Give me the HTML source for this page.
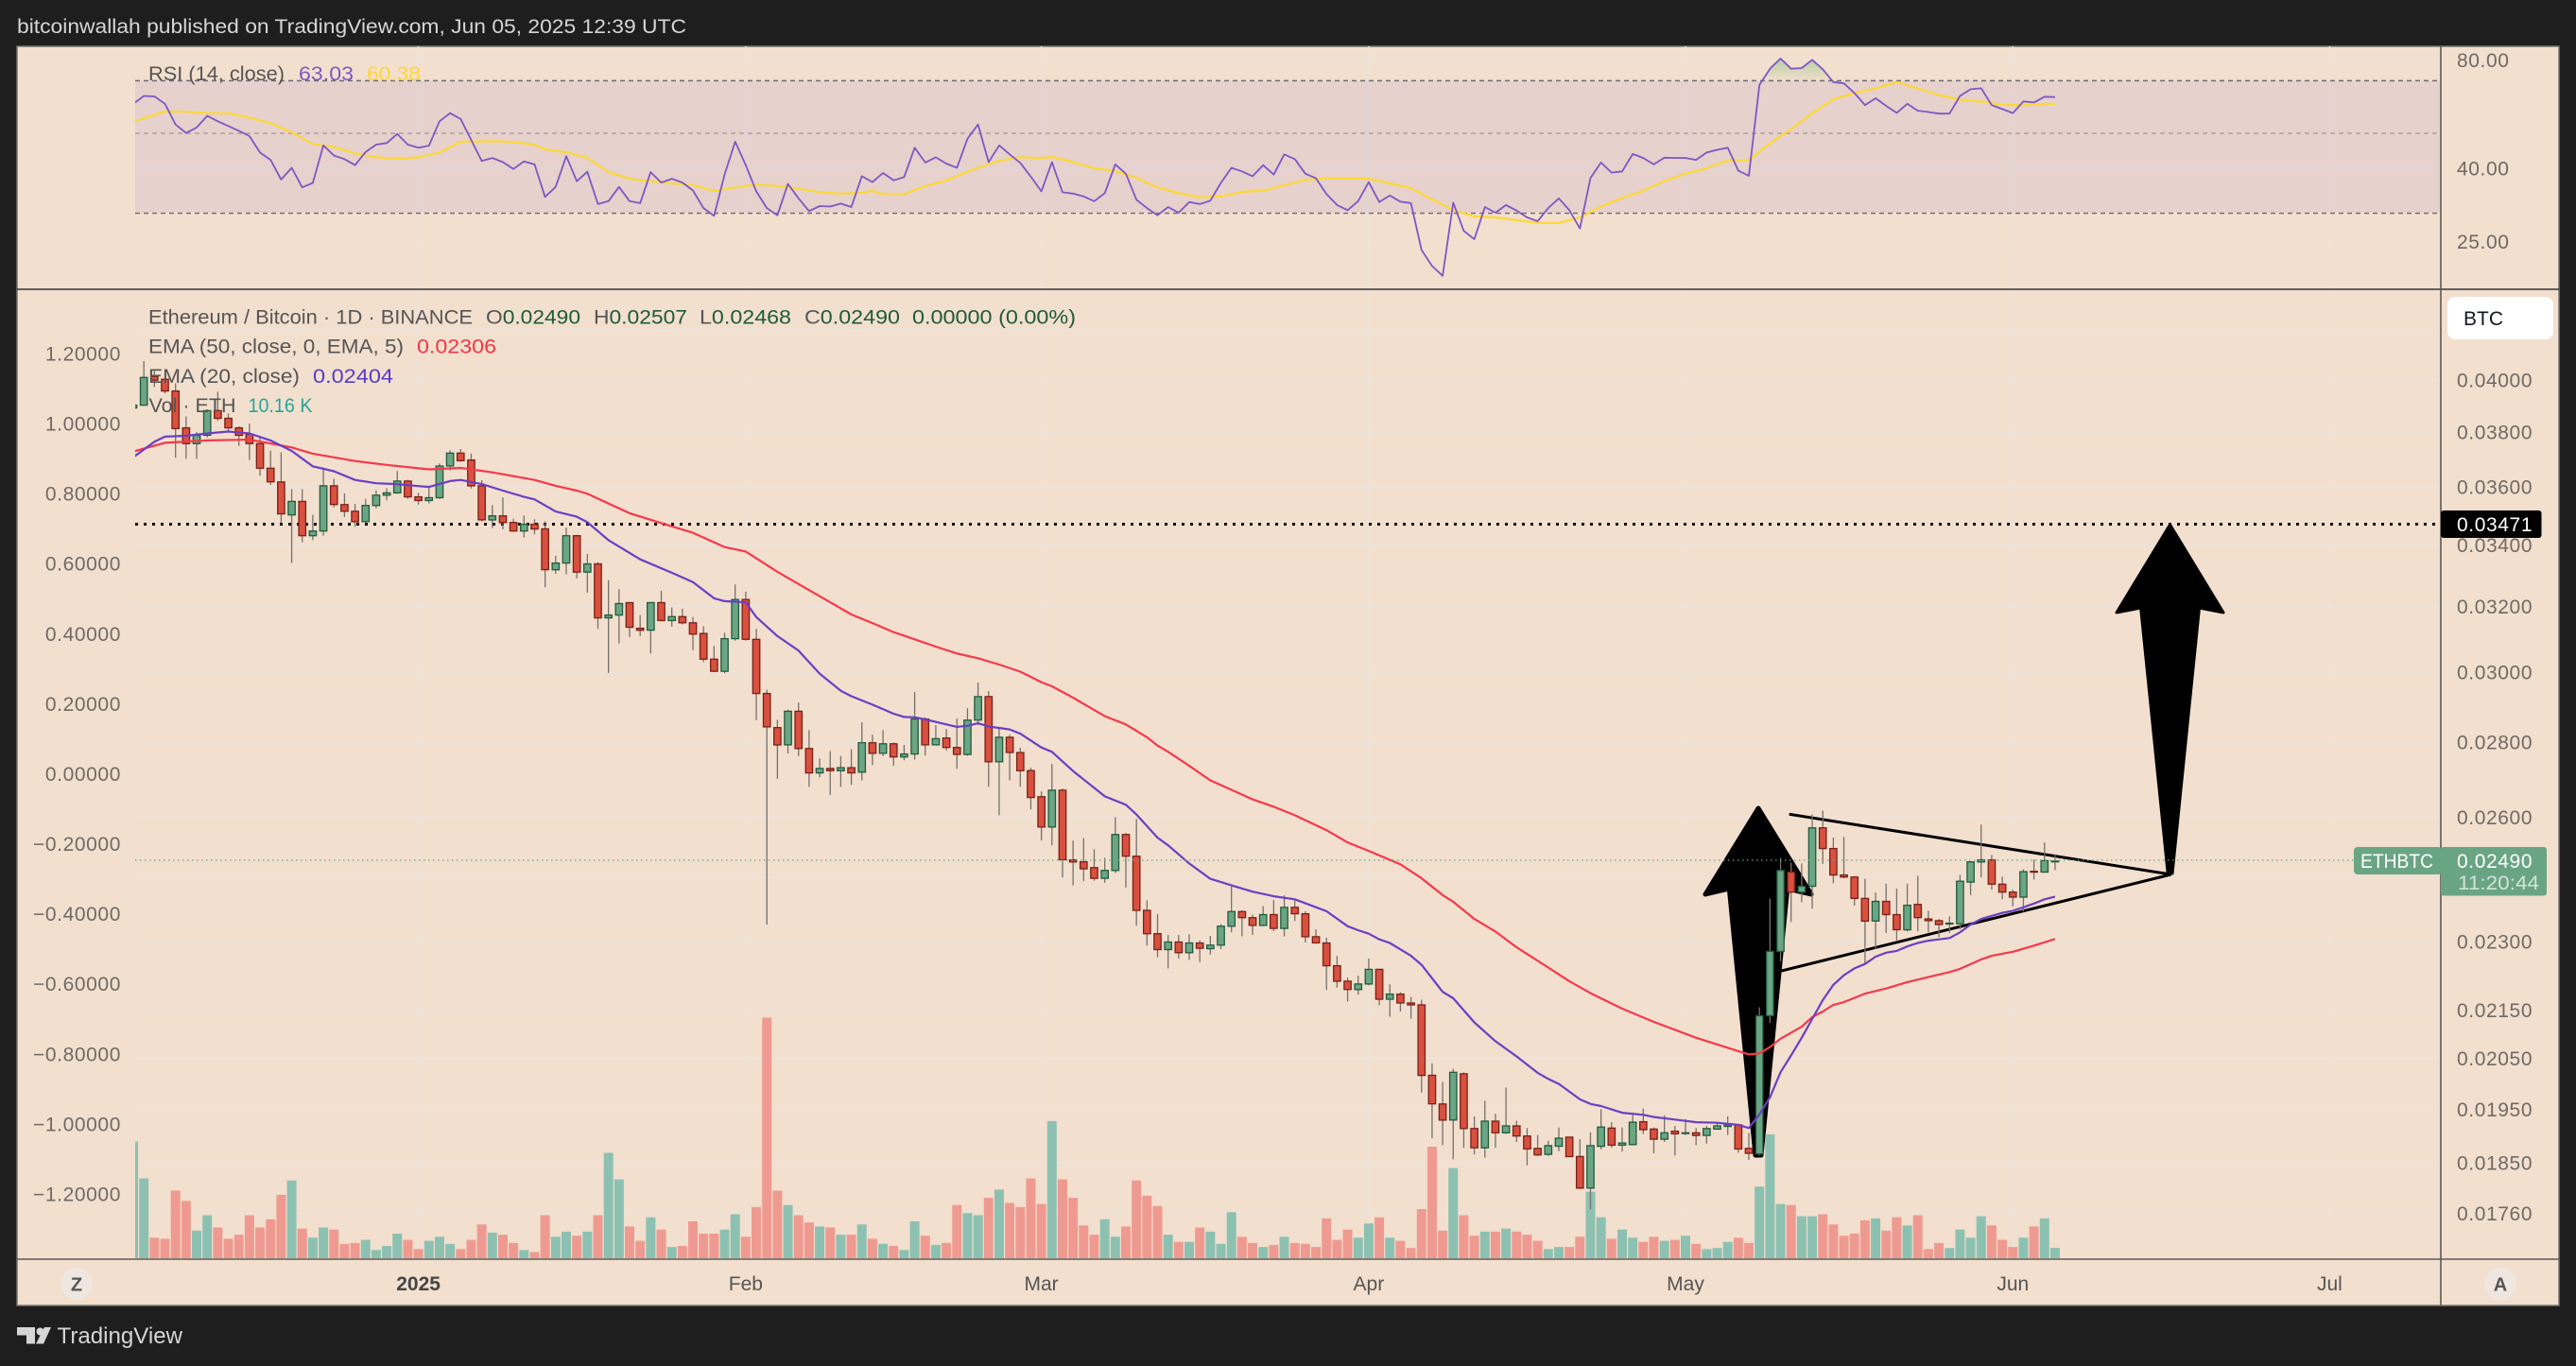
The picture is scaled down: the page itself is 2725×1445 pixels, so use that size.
<!DOCTYPE html>
<html lang="en">
<head>
<meta charset="utf-8">
<title>ETHBTC chart</title>
<style>
html,body{margin:0;padding:0;background:#1e1e1e;width:2725px;height:1445px;overflow:hidden}
svg{display:block}
text{font-family:"Liberation Sans",sans-serif}
</style>
</head>
<body>
<svg id="chart" xmlns="http://www.w3.org/2000/svg" width="2725" height="1445" viewBox="0 0 2725 1445">
  <defs>
    <clipPath id="plot-clip"><rect x="143" y="306" width="2439" height="1026"/></clipPath>
    <clipPath id="rsi-clip"><rect x="143" y="49" width="2439" height="257"/></clipPath>
    <clipPath id="rsi-ob-clip"><rect x="143" y="49" width="2439" height="36.5"/></clipPath>
    <linearGradient id="rsi-ob-grad" gradientUnits="userSpaceOnUse" x1="0" y1="60" x2="0" y2="86">
      <stop offset="0" stop-color="#4caf50" stop-opacity="0.38"/>
      <stop offset="1" stop-color="#4caf50" stop-opacity="0"/>
    </linearGradient>
  </defs>
  <rect x="0" y="0" width="2725" height="1445" fill="#1e1e1e"/>
  <text x="18" y="35" font-size="21" fill="#d6d6d6" textLength="708" lengthAdjust="spacingAndGlyphs">bitcoinwallah published on TradingView.com, Jun 05, 2025 12:39 UTC</text>
  <rect x="18" y="49" width="2689" height="1332" fill="#f2dfce" stroke="#77736e" stroke-width="1.5"/>

  <g id="grid-layer"></g>
  <rect x="143" y="85.5" width="2439" height="139.5" fill="#7e57c2" fill-opacity="0.1"/>
  <g id="rsi-levels"></g>
  <g id="rsi-layer" clip-path="url(#rsi-clip)"></g>

  <g>
    <line x1="143" y1="554.5" x2="2578" y2="554.5" stroke="#000" stroke-width="3" stroke-dasharray="3 6"/>
    <polygon points="1860,855 1916,946 1890.7,940 1863,1222 1857,1222 1829.3,940 1804,946" fill="#000" stroke="#000" stroke-width="5" stroke-linejoin="round"/>
    <polygon points="2295.5,555 2352,648 2326.5,643 2298,924 2293,922 2264.6,643 2239,648" fill="#000" stroke="#000" stroke-width="3" stroke-linejoin="round"/>
    <line x1="1892.7" y1="861.3" x2="2296.7" y2="925" stroke="#000" stroke-width="3"/>
    <line x1="1883.3" y1="1027.3" x2="2296.7" y2="925" stroke="#000" stroke-width="3"/>
  </g>

  <g id="volume-layer" clip-path="url(#plot-clip)"></g>
  <g id="candle-layer" clip-path="url(#plot-clip)"></g>
  <g id="ema-layer" clip-path="url(#plot-clip)"></g>
  <line x1="143" y1="910" x2="2490" y2="910" stroke="#5fa880" stroke-width="1.3" stroke-dasharray="1.5 3.5"/>

  <line x1="18" y1="306" x2="2707" y2="306" stroke="#34343a" stroke-width="1.6"/>
  <line x1="18" y1="1332" x2="2707" y2="1332" stroke="#5c5a58" stroke-width="1.6"/>
  <line x1="2582" y1="49" x2="2582" y2="1381" stroke="#5c5a58" stroke-width="1.6"/>

  <g id="tick-layer"></g>

  <g>
    <text x="157" y="85" font-size="21" fill="#555" textLength="144" lengthAdjust="spacingAndGlyphs">RSI (14, close)</text>
    <text x="316" y="85" font-size="21" fill="#7e57c2" textLength="58" lengthAdjust="spacingAndGlyphs">63.03</text>
    <text x="388" y="85" font-size="21" fill="#fdd835" textLength="57" lengthAdjust="spacingAndGlyphs">60.38</text>
  </g>
  <g>
    <text x="157" y="342.5" font-size="21" fill="#555" textLength="343" lengthAdjust="spacingAndGlyphs">Ethereum / Bitcoin · 1D · BINANCE</text>
    <text x="514" y="342.5" font-size="21" fill="#1f5a3c" textLength="100" lengthAdjust="spacingAndGlyphs"><tspan fill="#555">O</tspan>0.02490</text>
    <text x="628" y="342.5" font-size="21" fill="#1f5a3c" textLength="99" lengthAdjust="spacingAndGlyphs"><tspan fill="#555">H</tspan>0.02507</text>
    <text x="740" y="342.5" font-size="21" fill="#1f5a3c" textLength="97" lengthAdjust="spacingAndGlyphs"><tspan fill="#555">L</tspan>0.02468</text>
    <text x="851" y="342.5" font-size="21" fill="#1f5a3c" textLength="101" lengthAdjust="spacingAndGlyphs"><tspan fill="#555">C</tspan>0.02490</text>
    <text x="965" y="342.5" font-size="21" fill="#1f5a3c" textLength="173" lengthAdjust="spacingAndGlyphs">0.00000 (0.00%)</text>
    <text x="157" y="373.7" font-size="21" fill="#555" textLength="270" lengthAdjust="spacingAndGlyphs">EMA (50, close, 0, EMA, 5)</text>
    <text x="441" y="373.7" font-size="21" fill="#f23645" textLength="84" lengthAdjust="spacingAndGlyphs">0.02306</text>
    <text x="157" y="405" font-size="21" fill="#555" textLength="160" lengthAdjust="spacingAndGlyphs">EMA (20, close)</text>
    <text x="331" y="405" font-size="21" fill="#5b3bc4" textLength="85" lengthAdjust="spacingAndGlyphs">0.02404</text>
    <text x="157.5" y="436" font-size="21" fill="#555" textLength="92" lengthAdjust="spacingAndGlyphs">Vol · ETH</text>
    <text x="262.5" y="436" font-size="21" fill="#26a69a" textLength="68" lengthAdjust="spacingAndGlyphs">10.16 K</text>
  </g>

  <g>
    <rect x="2589" y="314" width="112" height="45" rx="8" fill="#fff"/>
    <text x="2606" y="344" font-size="21" fill="#131722">BTC</text>
  </g>
  <g>
    <rect x="2582" y="540" width="106.5" height="29" rx="3" fill="#000"/>
    <text x="2599" y="562" font-size="21" fill="#fff" letter-spacing="0.6">0.03471</text>
  </g>
  <g>
    <rect x="2490" y="896" width="93" height="29" rx="4" fill="#6aa583"/>
    <text x="2497" y="918" font-size="21" fill="#fff" textLength="77" lengthAdjust="spacingAndGlyphs">ETHBTC</text>
    <rect x="2582" y="896" width="112" height="51.5" rx="3" fill="#6aa583"/>
    <text x="2599" y="918" font-size="21" fill="#fff" letter-spacing="0.6">0.02490</text>
    <text x="2600" y="941" font-size="21" fill="#d3e3d8" textLength="86" lengthAdjust="spacingAndGlyphs">11:20:44</text>
  </g>

  <g>
    <ellipse cx="81" cy="1358" rx="17" ry="17.5" fill="#efe6df"/>
    <text x="81" y="1365.5" font-size="20" font-weight="bold" fill="#555" text-anchor="middle">Z</text>
  </g>
  <g>
    <ellipse cx="2645" cy="1358" rx="17" ry="17.5" fill="#efe6df"/>
    <text x="2645" y="1365.5" font-size="20" font-weight="bold" fill="#555" text-anchor="middle">A</text>
  </g>

  <g>
    <path d="M18 1404h19v17.5h-9v-9h-10z" fill="#d6d6d6"/>
    <circle cx="42.5" cy="1408.5" r="4" fill="#d6d6d6"/>
    <polygon points="47,1404 54,1404 46,1421.5 38,1421.5" fill="#d6d6d6"/>
    <text x="60.5" y="1421" font-size="24" fill="#d6d6d6" textLength="132.5" lengthAdjust="spacingAndGlyphs">TradingView</text>
  </g>
</svg>

<script>
// Day index 0 is 1 Jan 2025. Prices are in units of 0.00001 BTC.
const firstDay = -27;
const opens = [3891,3902,4014,4003,3957,3816,3757,3788,3881,3852,3816,3792,3757,3667,3618,3502,3549,3431,3447,3604,3538,3515,3479,3535,3571,3579,3621,
3565,3552,3562,3675,3722,3697,3604,3485,3499,3476,3447,3470,3454,3318,3340,3431,3310,3337,3164,3173,
3212,3132,3126,3212,3156,3168,3149,3116,3038,3002,3100,3222,3098,2937,2840,2792,2886,2782,2716,2728,
2722,2730,2718,2798,2769,2795,2759,2767,2864,2792,2811,2785,2766,2861,2928,2746,2813,2771,2722,2653,
2575,2670,2493,2488,2474,2448,2467,2556,2502,2372,2318,2282,2299,2275,2297,2284,2292,2335,2369,2355,
2337,2362,2330,2379,2364,2311,2297,2246,2212,2194,2206,2238,2173,2184,2165,2161,2016,1960,1929,2019,
1913,1877,1927,1905,1918,1899,1876,1865,1880,1897,1861,1804,1880,1914,1882,1883,1926,1912,1893,1908,
1904,1905,1900,1912,1917,1920,1876,1866,2138,2278,2463,2415,2429,2573,2521,2456,2451,2400,2347,2393,
2362,2327,2386,2352,2348,2341,2341,2439,2488,2493,2434,2415,2403,2465,2463,2490];
const highs = [3905,4075,4039,4022,3987,3859,3800,3886,3954,3870,3822,3832,3780,3731,3725,3592,3592,3502,3670,3629,3577,3540,3558,3588,3595,3657,3626,
3579,3597,3684,3733,3737,3720,3624,3536,3563,3489,3500,3487,3480,3364,3459,3434,3370,3343,3284,3255,
3213,3173,3214,3250,3197,3193,3167,3138,3078,3118,3270,3247,3130,2948,2862,2891,2911,2833,2755,2775,
2762,2780,2855,2820,2833,2799,2792,2941,2869,2847,2836,2866,2895,2969,2944,2838,2820,2784,2730,2667,
2740,2674,2541,2547,2519,2498,2600,2560,2595,2396,2363,2315,2315,2317,2303,2313,2340,2428,2372,2362,
2382,2396,2407,2395,2370,2328,2309,2268,2220,2224,2262,2239,2205,2188,2178,2172,2040,2003,2029,2022,
1936,1966,1941,1992,1928,1914,1901,1890,1915,1897,1893,1906,1950,1925,1915,1943,1951,1915,1938,1918,
1931,1914,1918,1926,1936,1921,1905,2156,2400,2498,2486,2484,2607,2617,2548,2550,2454,2447,2414,2435,
2423,2435,2454,2371,2352,2358,2456,2489,2581,2505,2452,2421,2470,2494,2536,2507];
const lows = [3880,3902,3973,3947,3705,3701,3701,3780,3842,3800,3749,3697,3640,3607,3473,3340,3409,3416,3431,3528,3495,3461,3476,3525,3553,3576,3558,
3538,3542,3558,3659,3691,3595,3480,3457,3453,3444,3425,3436,3261,3305,3303,3290,3244,3130,2997,3085,
3105,3108,3055,3153,3137,3144,3065,3029,3000,2996,3094,3094,2861,2339,2700,2768,2761,2679,2704,2658,
2679,2684,2696,2737,2761,2735,2750,2752,2763,2792,2776,2727,2762,2847,2679,2605,2696,2679,2620,2541,
2529,2450,2431,2441,2442,2437,2461,2426,2336,2291,2265,2240,2262,2259,2254,2271,2283,2321,2312,2315,
2335,2324,2312,2347,2298,2295,2193,2198,2168,2183,2203,2160,2136,2147,2132,1982,1895,1882,1856,1877,
1865,1859,1877,1903,1888,1845,1862,1862,1871,1860,1802,1767,1874,1877,1870,1883,1903,1867,1888,1863,
1901,1882,1885,1911,1901,1868,1855,1863,2123,2256,2345,2391,2376,2483,2436,2448,2383,2248,2284,2320,
2303,2323,2323,2321,2310,2320,2328,2408,2450,2421,2398,2381,2369,2445,2461,2468];
const closes = [3902,4010,3999,3957,3813,3757,3788,3881,3852,3816,3788,3757,3667,3618,3506,3549,3431,3447,3604,3538,3515,3479,3535,3571,3579,3621,3565,
3552,3562,3675,3722,3694,3604,3485,3499,3476,3447,3470,3454,3318,3340,3431,3310,3337,3164,3173,3209,
3135,3126,3212,3156,3168,3149,3114,3038,3002,3100,3222,3098,2937,2842,2792,2886,2782,2716,2728,2722,
2730,2716,2798,2769,2795,2759,2767,2864,2792,2809,2785,2766,2861,2928,2746,2813,2771,2722,2651,2575,
2670,2493,2488,2471,2448,2467,2556,2502,2372,2318,2282,2299,2275,2297,2285,2292,2335,2369,2355,2337,
2362,2330,2379,2364,2311,2297,2246,2212,2194,2206,2238,2173,2184,2165,2161,2016,1960,1929,2022,1913,
1877,1927,1905,1918,1899,1875,1864,1881,1895,1861,1804,1881,1916,1882,1886,1925,1911,1893,1905,1903,
1905,1900,1913,1918,1920,1875,1867,2138,2278,2467,2415,2429,2573,2521,2456,2451,2400,2347,2393,2362,
2327,2384,2355,2348,2339,2342,2441,2488,2493,2434,2415,2403,2464,2463,2491,2490];
// Volume in thousands of ETH.
const volumes = [114,78,20,19,66,56,27,42,30,19,23,42,30,38,62,76,29,20,30,28,14,15,18,8,12,24,18,
9,17,21,14,9,18,33,25,23,15,8,6,42,21,26,22,26,42,103,77,31,17,40,28,11,12,36,24,24,28,43,21,50,235,66,52,42,35,31,30,23,23,33,19,14,12,8,36,22,13,15,52,44,42,59,67,54,50,78,53,134,77,59,32,23,38,21,31,76,61,51,23,16,16,30,26,14,45,21,15,11,13,21,15,14,11,39,18,28,20,34,40,20,17,10,48,109,27,88,42,22,26,26,29,26,23,17,9,11,11,21,65,40,19,28,20,16,21,17,18,22,14,9,10,16,20,15,70,121,53,52,41,41,43,33,22,24,37,39,27,40,32,42,9,15,10,28,20,41,32,18,11,20,31,39,10.16];
const rsiValues = [60.4,63.5,63.3,60.4,52.9,50.1,51.9,55.9,54.0,52.4,50.8,49.1,44.2,42.2,37.2,40.1,35.4,36.4,46.3,43.4,42.4,40.8,44.4,46.5,47.0,49.8,46.5,
45.6,46.2,54.0,56.9,54.8,47.9,41.9,42.7,41.6,39.8,41.8,41.0,33.3,35.5,43.2,36.8,39.1,31.8,32.4,35.5,
32.4,32.0,39.0,36.5,37.4,36.5,34.7,31.0,29.5,38.4,47.4,40.8,34.5,31.0,29.6,36.2,33.0,30.4,31.4,31.3,
31.9,31.2,38.0,36.6,38.8,37.0,37.8,45.6,41.5,42.9,41.2,40.1,48.3,52.9,41.6,46.3,43.7,41.4,37.9,34.5,
41.6,34.3,34.0,33.4,32.4,34.1,41.0,38.6,32.7,31.0,29.6,31.2,30.1,32.2,31.8,32.5,36.4,40.1,39.2,38.0,
40.8,38.4,43.7,42.4,38.6,37.5,33.9,31.6,30.6,32.4,36.6,32.2,33.6,32.3,32.0,23.7,21.4,20.1,32.1,26.8,
25.4,31.2,30.1,31.6,30.5,29.2,28.5,31.0,33.0,30.6,27.2,37.6,41.5,38.9,39.2,43.8,42.7,41.0,42.8,42.7,
42.7,42.2,44.2,45.0,45.6,39.4,38.1,68.1,75.6,80.7,75.6,75.9,80.0,75.3,69.4,68.8,64.7,59.9,62.6,59.6,
57.0,60.4,57.8,57.3,56.7,56.7,63.5,66.3,66.7,59.9,58.4,56.9,61.3,60.9,63.2,63.03];
const rsiMaDays = [-27,-26,-25,-24,-22,-20,-18,-16,-14,-12,-10,-8,-6,-4,-2,0,2,4,6,8,10,11,12,14,16,18,20,22,24,26,28,30,32,34,36,38,40,42,43,44,46,48,50,52,53,55,57,59,60,62,64,66,68,70,72,74,76,78,80,82,84,86,88,90,92,94,96,98,100,102,104,106,108,110,112,114,116,118,120,122,124,126,128,130,132,134,136,138,140,142,144,146,148,150,152,154,155];
const rsiMaValues = [53.8,55.1,56.3,57.5,57.4,56.9,56.9,55.3,53.3,50.3,46.7,45.8,44.0,42.9,42.5,42.9,44.2,47.4,47.5,47.5,46.9,46.5,45.1,44.3,42.7,39.0,37.4,36.8,36.3,35.9,34.6,35.4,36.0,35.7,35.1,34.3,34.0,34.2,34.6,33.9,33.9,35.7,37.0,39.1,40.1,42.0,42.9,42.7,43.0,41.6,40.0,39.3,37.6,35.4,34.1,33.2,33.4,34.4,34.6,35.9,37.1,37.5,37.5,37.4,36.3,35.2,32.8,30.6,29.4,29.2,28.7,28.2,28.2,29.2,31.3,33.1,34.6,36.9,38.6,40.0,42.1,42.1,46.9,51.4,56.9,62.1,64.7,66.6,69.4,66.6,63.9,62.0,61.2,60.0,59.8,60.4,60.38];
const ema20Days = [-27,-25,-24,-22,-20,-18,-16,-14,-12,-10,-8,-6,-4,-2,0,1,3,4,6,8,10,11,13,15,16,18,21,24,26,28,29,31,32,34,36,38,40,41,43,45,46,47,48,50,51,52,53,54,56,57,59,60,62,65,67,68,70,71,73,75,77,79,81,83,86,88,89,90,91,92,94,95,97,98,100,102,104,106,107,108,110,111,112,114,116,117,119,121,123,125,126,127,128,129,130,131,132,133,134,135,136,137,138,139,140,141,142,143,144,145,146,147,148,150,151,152,153,154,155];
const ema20Values = [3707,3764,3783,3786,3795,3802,3795,3769,3730,3674,3656,3625,3613,3610,3603,3600,3621,3625,3610,3587,3565,3556,3514,3496,3477,3416,3352,3308,3278,3226,3217,3213,3167,3108,3064,2995,2945,2929,2905,2879,2870,2869,2863,2849,2842,2845,2852,2843,2835,2823,2785,2773,2721,2654,2632,2607,2548,2529,2484,2447,2431,2416,2405,2398,2370,2335,2326,2318,2305,2297,2268,2248,2189,2175,2124,2085,2054,2021,2009,1999,1969,1960,1956,1943,1939,1935,1930,1925,1924,1920,1914,1940,1973,2022,2056,2092,2131,2171,2204,2225,2240,2250,2266,2275,2279,2289,2297,2302,2305,2308,2321,2339,2352,2366,2371,2379,2388,2398,2404];
const ema50Days = [-27,-24,-20,-16,-12,-10,-6,-3,1,4,7,11,13,15,16,20,24,26,29,31,34,41,43,45,47,49,51,53,55,57,59,60,62,65,67,69,70,71,73,75,77,79,81,83,86,88,90,93,95,97,98,100,102,104,107,109,111,114,117,121,126,127,128,129,131,132,133,134,135,137,139,141,143,145,146,148,149,151,153,155];
const ema50Values = [3728,3760,3769,3772,3743,3720,3693,3679,3663,3668,3652,3625,3604,3587,3576,3508,3463,3441,3393,3378,3311,3175,3148,3120,3098,3076,3055,3041,3022,3001,2970,2958,2925,2872,2849,2813,2790,2773,2735,2696,2671,2646,2627,2605,2567,2536,2515,2482,2448,2408,2392,2352,2323,2287,2242,2212,2186,2153,2125,2092,2058,2060,2073,2090,2115,2135,2147,2161,2167,2185,2196,2210,2221,2232,2239,2260,2268,2277,2291,2306];
const priceGridLevels = [4200,4000,3800,3600,3400,3200,3000,2800,2600,2450,2300,2150,2050,1950,1850,1760];
const priceTickLevels = [4000,3800,3600,3400,3200,3000,2800,2600,2300,2150,2050,1950,1850,1760];
const rsiTicks = [80,40,25];
const rsiDashLevels = [70,50,30];
const leftTicks = [1.2,1,0.8,0.6,0.4,0.2,0,-0.2,-0.4,-0.6,-0.8,-1,-1.2];
const monthDays = [0,31,59,90,120,151,181];
const monthLabels = ['2025','Feb','Mar','Apr','May','Jun','Jul'];

function xDay(d){ return 442.6 + 11.17 * d; }
function yPrice(p){ return 402 + Math.log(4000 / p) * 1073.5; }
function yRsi(v){ return 63.3 + Math.log(80 / v) * 165.4; }
function yVol(v){ return 1331 - v * 1.083; }
function yLeft(v){ return 374 + (1.2 - v) * 370.4; }

const NS = 'http://www.w3.org/2000/svg';
function mk(tag, attrs, parent){
  const el = document.createElementNS(NS, tag);
  for (const k in attrs) el.setAttribute(k, attrs[k]);
  parent.appendChild(el);
  return el;
}
const gridLayer = document.getElementById('grid-layer');
const rsiLevels = document.getElementById('rsi-levels');
const rsiLayer = document.getElementById('rsi-layer');
const volumeLayer = document.getElementById('volume-layer');
const candleLayer = document.getElementById('candle-layer');
const emaLayer = document.getElementById('ema-layer');
const tickLayer = document.getElementById('tick-layer');

monthDays.forEach(function(d){
  const el = mk('line', {x1:xDay(d), y1:49, x2:xDay(d), y2:1332, stroke:'#ece3da', 'stroke-width':1.5}, gridLayer);
  
  
});
priceGridLevels.forEach(function(p){
  const el = mk('line', {x1:143, y1:yPrice(p), x2:2582, y2:yPrice(p), stroke:'#ebe3dc', 'stroke-width':1.6}, gridLayer);
  
  
});
rsiTicks.forEach(function(v){
  const el = mk('line', {x1:143, y1:yRsi(v), x2:2582, y2:yRsi(v), stroke:'#ebe3dc', 'stroke-width':1.4}, gridLayer);
  
  
});
rsiDashLevels.forEach(function(v){
  const el = mk('line', {x1:143, y1:yRsi(v), x2:2579, y2:yRsi(v), stroke:(v === 50 ? '#a89c98' : '#6e6a72'), 'stroke-width':1.4, 'stroke-dasharray':'5 4'}, rsiLevels);
  
  
});

// RSI pane
const rsiPts = rsiValues.map(function(v, i){ return xDay(firstDay + i).toFixed(1) + ',' + yRsi(v).toFixed(1); });
const rsiLastX = xDay(firstDay + rsiValues.length - 1).toFixed(1);
const rsiFirstX = xDay(firstDay).toFixed(1);
const rsiFill = mk('polygon', {points:rsiFirstX + ',85.5 ' + rsiPts.join(' ') + ' ' + rsiLastX + ',85.5', fill:'url(#rsi-ob-grad)', 'clip-path':'url(#rsi-ob-clip)'}, rsiLayer);


const rsiMaLine = mk('polyline', {points:rsiMaDays.map(function(d, i){ return xDay(d).toFixed(1) + ',' + yRsi(rsiMaValues[i]).toFixed(1); }).join(' '), fill:'none', stroke:'#fdd835', 'stroke-width':2.2, 'stroke-linejoin':'round'}, rsiLayer);


const rsiLine = mk('polyline', {points:rsiPts.join(' '), fill:'none', stroke:'#7e57c2', 'stroke-width':1.8, 'stroke-linejoin':'round'}, rsiLayer);



// Volume
volumes.forEach(function(v, i){
  const up = closes[i] >= opens[i];
  const top = yVol(v);
  const bar = mk('rect', {x:(xDay(firstDay + i) - 5).toFixed(2), y:top.toFixed(1), width:10, height:(1331 - top).toFixed(1), fill:(up ? '#8cc1b2' : '#ef9a90')}, volumeLayer);
  
  
});

// Candles
opens.forEach(function(o, i){
  const c = closes[i];
  const up = c >= o;
  const x = xDay(firstDay + i);
  const g = mk('g', {}, candleLayer);
  
  
  const wick = mk('line', {x1:x.toFixed(2), y1:yPrice(highs[i]).toFixed(1), x2:x.toFixed(2), y2:yPrice(lows[i]).toFixed(1), stroke:'#77716c', 'stroke-width':1.3}, g);
  
  
  const top = yPrice(Math.max(o, c));
  const bot = yPrice(Math.min(o, c));
  const body = mk('rect', {x:(x - 3.7).toFixed(2), y:top.toFixed(1), width:7.4, height:Math.max(0.8, bot - top).toFixed(1), fill:(up ? '#6ba583' : '#d9503f'), stroke:(up ? '#1f5c3f' : '#7a2018'), 'stroke-width':1.3}, g);
  
  
});

// EMA lines
const ema50Line = mk('polyline', {points:ema50Days.map(function(d, i){ return xDay(d).toFixed(1) + ',' + yPrice(ema50Values[i]).toFixed(1); }).join(' '), fill:'none', stroke:'#f5394c', 'stroke-width':2.2, 'stroke-linejoin':'round'}, emaLayer);


const ema20Line = mk('polyline', {points:ema20Days.map(function(d, i){ return xDay(d).toFixed(1) + ',' + yPrice(ema20Values[i]).toFixed(1); }).join(' '), fill:'none', stroke:'#6a3fc4', 'stroke-width':2.2, 'stroke-linejoin':'round'}, emaLayer);



// Axis labels
priceTickLevels.forEach(function(p){
  const t = mk('text', {x:2599, y:(yPrice(p) + 7.5).toFixed(1), 'font-size':21, 'letter-spacing':0.6, fill:'#6f6a66'}, tickLayer);
  
  
  t.textContent = (p / 100000).toFixed(5);
});
rsiTicks.forEach(function(v){
  const t = mk('text', {x:2599, y:(yRsi(v) + 7.5).toFixed(1), 'font-size':21, 'letter-spacing':0.6, fill:'#6f6a66'}, tickLayer);
  
  
  t.textContent = v.toFixed(2);
});
leftTicks.forEach(function(v){
  const t = mk('text', {x:128, y:(yLeft(v) + 7.5).toFixed(1), 'font-size':21, 'letter-spacing':0.6, fill:'#6f6a66', 'text-anchor':'end'}, tickLayer);
  
  
  t.textContent = (v < 0 ? '\u2212' : '') + Math.abs(v).toFixed(5);
});
monthDays.forEach(function(d, i){
  const t = mk('text', {x:xDay(d).toFixed(1), y:1365, 'font-size':21, fill:(i === 0 ? '#444' : '#555'), 'font-weight':(i === 0 ? 'bold' : 'normal'), 'text-anchor':'middle'}, tickLayer);
  
  
  t.textContent = monthLabels[i];
});
</script>
</body>
</html>
